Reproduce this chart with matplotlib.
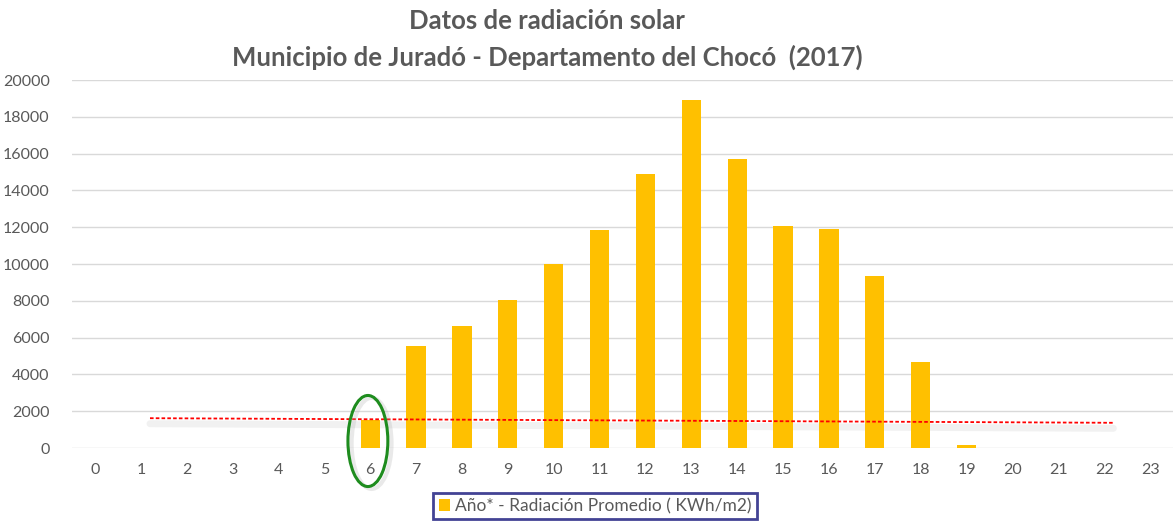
import matplotlib
matplotlib.use("Agg")
import matplotlib.pyplot as plt
from matplotlib.patches import Ellipse

hours = list(range(24))
radiation = [0, 0, 0, 0, 0, 0, 1520, 5550, 6620, 8030, 10000, 11850, 14880,
             18920, 15700, 12080, 11900, 9350, 4670, 170, 0, 0, 0, 0]
trend_x = [1.2, 22.2]
trend_y = [1620, 1370]
title_lines = ["Datos de radiación solar", "Municipio de Juradó - Departamento del Chocó  (2017)"]
legend_label = "Año* - Radiación Promedio ( KWh/m2)"
yticks = list(range(0, 20001, 2000))

plt.rcParams['font.family'] = ['Lato', 'DejaVu Sans']
gray = '#595959'

fig = plt.figure(figsize=(11.75, 5.27), dpi=100)
ax = fig.add_axes([72/1175, 1-448/527, 1101/1175, 368/527])

bars = ax.bar(hours, radiation, width=0.42, color='#FFC000', zorder=3, label=legend_label)

# soft shadow of trend line
ax.plot(trend_x, [v - 300 for v in trend_y], color='#c8c8c8', lw=5, alpha=0.25,
        solid_capstyle='round', zorder=2)
ax.plot(trend_x, trend_y, color='#FF0000', lw=1.3, ls=(0, (2, 1.2)), zorder=4)

ax.set_xlim(-0.5, 23.5)
ax.set_ylim(0, 20000)
ax.set_yticks(yticks)
ax.set_xticks(hours)
ax.grid(axis='y', color='#D9D9D9', lw=1, zorder=0)
for s in ax.spines.values():
    s.set_visible(False)
ax.tick_params(axis='both', length=0, labelsize=11.5, colors=gray)
ax.tick_params(axis='y', pad=16)
ax.tick_params(axis='x', pad=11)

# green ellipse around hour 6
shadow = Ellipse((6.03, 250), width=0.87, height=4950, fill=False, edgecolor='#aaaaaa',
                 lw=3, alpha=0.25, clip_on=False, zorder=4)
ax.add_patch(shadow)
ell = Ellipse((5.95, 380), width=0.87, height=4950, fill=False, edgecolor='#1E8C1E',
              lw=2.2, clip_on=False, zorder=5)
ax.add_patch(ell)

fig.text(547/1175, 1-21/527, title_lines[0], ha='center', va='center',
         fontsize=18.5, fontweight='bold', color=gray)
fig.text(547/1175, 1-57/527, title_lines[1], ha='center', va='center',
         fontsize=18.5, fontweight='bold', color=gray)

leg = fig.legend(handles=[bars], labels=[legend_label], loc='center',
                 bbox_to_anchor=(595/1175, 1-506/527), frameon=True, fancybox=False,
                 fontsize=12.5, handlelength=0.65, handleheight=0.65, handletextpad=0.3,
                 borderpad=0.3, borderaxespad=0, labelcolor=gray)
leg.get_frame().set_edgecolor('#14147A')
leg.get_frame().set_linewidth(2)

fig.savefig('out.png', dpi=100)
